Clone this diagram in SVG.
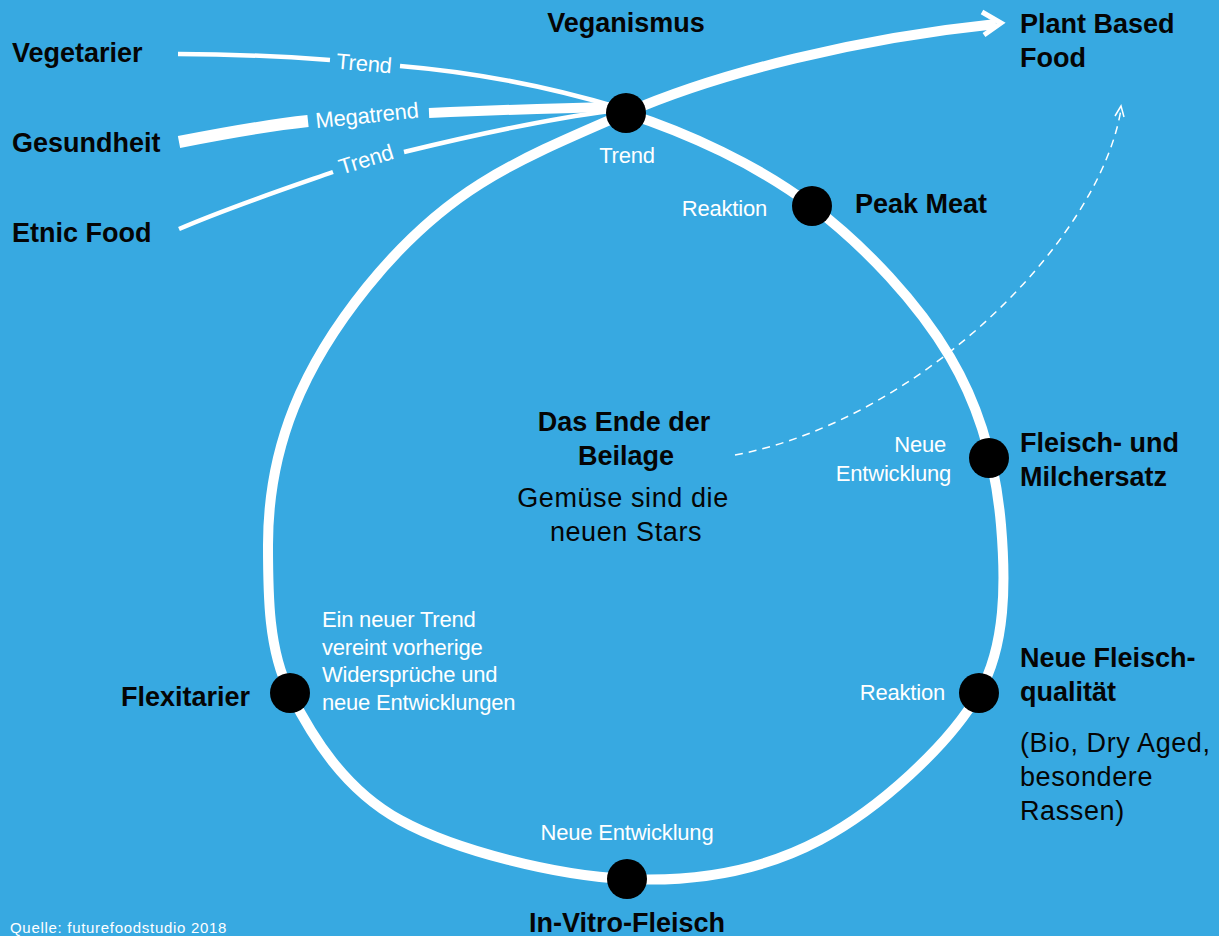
<svg xmlns="http://www.w3.org/2000/svg" width="1219" height="936" viewBox="0 0 1219 936">
<style>
.b{font-family:"Liberation Sans",Arial,sans-serif;font-weight:bold;font-size:27px;fill:#050505}
.r{font-family:"Liberation Sans",Arial,sans-serif;font-size:27px;fill:#050505;letter-spacing:0.6px}
.w{font-family:"Liberation Sans",Arial,sans-serif;font-size:22px;fill:#ffffff;letter-spacing:-0.2px}
.src{font-family:"Liberation Sans",Arial,sans-serif;font-size:15px;fill:#ffffff;letter-spacing:0.7px}
.ln{fill:none;stroke:#ffffff;stroke-linecap:butt}
.dot{fill:#000000}
</style>
<rect x="0" y="0" width="1219" height="936" fill="#37a9e1"/>
<g id="connectors">
  <path class="ln" stroke-width="10" d="M626,113 C688,133 758,165 812,206 C866,247 918.5,303.8 950,357 C981.5,410.2 996.2,469 1001,525 C1005.8,581 1006.2,645.7 979,693 C948.8,745.5 878.7,809 820,840 C761.3,871 697,882.3 627,879 C557,875.7 456.2,851 400,820 C343.8,789 312,736.3 290,693 C268.3,650.3 268,595 268,545 C268,445 304.2,364.8 367,287 C445.5,189.75 511.3,162.5 626,113 Z"/>
  <path class="ln" stroke-width="4.5" d="M178,54 C230,54 290,57 330,60"/>
  <path class="ln" stroke-width="4.5" d="M400,66 C460,71 540,84 620,108"/>
  <path class="ln" stroke-width="12" d="M179,142 C220,134 270,125 308,121"/>
  <path class="ln" stroke-width="10" d="M429,113 C500,110 560,108 615,107"/>
  <path class="ln" stroke-width="4.5" d="M179,229 C230,207 290,187 333,172"/>
  <path class="ln" stroke-width="4.5" d="M404,152 C470,136 540,120 610,111"/>
  <text class="w" x="364" y="71" text-anchor="middle" transform="rotate(5 364 64)">Trend</text>
  <text class="w" x="367" y="123" text-anchor="middle" transform="rotate(-6 367 116)">Megatrend</text>
  <text class="w" x="366" y="167" text-anchor="middle" transform="rotate(-17 366 160)">Trend</text>
  <path class="ln" stroke-width="10" d="M626,113 C720,72 860,38 996,24"/>
  <polyline class="ln" stroke-width="5" stroke-linejoin="miter" points="982,12 1001,23 984,35"/>
  <path class="ln" stroke-width="1.5" stroke-dasharray="8,6" d="M735,455 C920,420 1100,240 1121,109"/>
  <polyline class="ln" stroke-width="1.5" points="1115,116 1121,106 1124,117"/>
</g>
<g id="n-veganismus">
  <circle class="dot" cx="626" cy="113" r="20"/>
  <text class="b" x="626" y="32" text-anchor="middle">Veganismus</text>
  <text class="w" x="627" y="163" text-anchor="middle">Trend</text>
</g>
<g id="n-vegetarier"><text class="b" x="12" y="62">Vegetarier</text></g>
<g id="n-gesundheit"><text class="b" x="12" y="152">Gesundheit</text></g>
<g id="n-etnic"><text class="b" x="12" y="242">Etnic Food</text></g>
<g id="n-plant">
  <text class="b" x="1020" y="33">Plant Based</text>
  <text class="b" x="1020" y="67">Food</text>
</g>
<g id="n-peak">
  <circle class="dot" cx="812" cy="206" r="20"/>
  <text class="b" x="855" y="213">Peak Meat</text>
  <text class="w" x="767" y="216" text-anchor="end">Reaktion</text>
</g>
<g id="n-fleischersatz">
  <circle class="dot" cx="989" cy="458" r="20"/>
  <text class="b" x="1020" y="452">Fleisch- und</text>
  <text class="b" x="1020" y="486">Milchersatz</text>
  <text class="w" x="946" y="452" text-anchor="end">Neue</text>
  <text class="w" x="951" y="481" text-anchor="end">Entwicklung</text>
</g>
<g id="n-fleischqual">
  <circle class="dot" cx="979" cy="693" r="20"/>
  <text class="b" x="1020" y="667">Neue Fleisch-</text>
  <text class="b" x="1020" y="701">qualität</text>
  <text class="r" x="1020" y="752">(Bio, Dry Aged,</text>
  <text class="r" x="1020" y="786">besondere</text>
  <text class="r" x="1020" y="820">Rassen)</text>
  <text class="w" x="945" y="700" text-anchor="end">Reaktion</text>
</g>
<g id="n-invitro">
  <circle class="dot" cx="627" cy="879" r="20"/>
  <text class="b" x="627" y="932" text-anchor="middle">In-Vitro-Fleisch</text>
  <text class="w" x="627" y="840" text-anchor="middle">Neue Entwicklung</text>
</g>
<g id="n-flexitarier">
  <circle class="dot" cx="290" cy="693" r="20"/>
  <text class="b" x="250" y="706" text-anchor="end">Flexitarier</text>
  <text class="w" x="322" y="627">Ein neuer Trend</text>
  <text class="w" x="322" y="655">vereint vorherige</text>
  <text class="w" x="322" y="682">Widersprüche und</text>
  <text class="w" x="322" y="710">neue Entwicklungen</text>
</g>
<g id="n-beilage">
  <text class="b" x="624" y="431" text-anchor="middle">Das Ende der</text>
  <text class="b" x="626" y="465" text-anchor="middle">Beilage</text>
  <text class="r" x="623" y="507" text-anchor="middle">Gemüse sind die</text>
  <text class="r" x="626" y="541" text-anchor="middle">neuen Stars</text>
</g>
<g id="source"><text class="src" x="10" y="933">Quelle: futurefoodstudio 2018</text></g>
</svg>
